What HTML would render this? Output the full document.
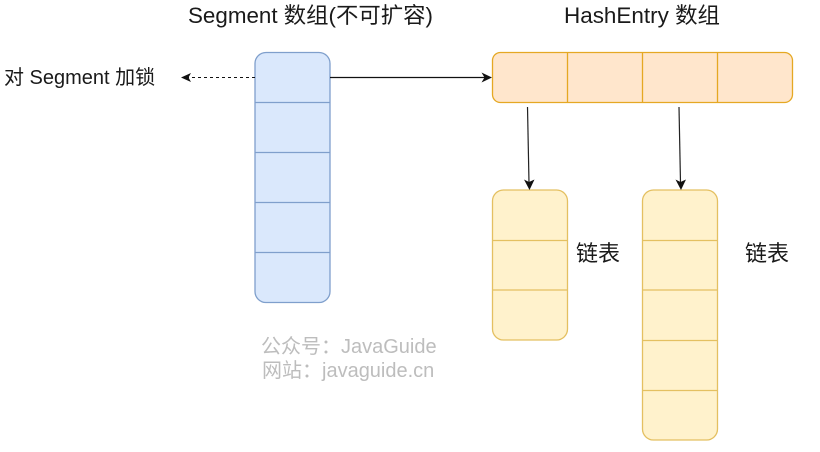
<!DOCTYPE html>
<html><head><meta charset="utf-8">
<style>
html,body{margin:0;padding:0;background:#fff;width:820px;height:452px;overflow:hidden}
svg{display:block;filter:blur(.35px)}
text{font-family:"Liberation Sans","Noto Sans CJK SC",sans-serif;fill:#1a1a1a}
</style></head>
<body>
<svg width="820" height="452" viewBox="0 0 820 452" xmlns="http://www.w3.org/2000/svg">
<!-- Segment array -->
<rect x="255" y="52.500" width="75" height="250" rx="11" fill="#dae8fc" stroke="#7f9fcc" stroke-width="1.300"/>
<g stroke="#7f9fcc" stroke-width="1.300">
<line x1="255" y1="102.500" x2="330" y2="102.500"/>
<line x1="255" y1="152.500" x2="330" y2="152.500"/>
<line x1="255" y1="202.500" x2="330" y2="202.500"/>
<line x1="255" y1="252.500" x2="330" y2="252.500"/>
</g>
<!-- HashEntry array -->
<rect x="492.500" y="52.500" width="300" height="50" rx="8" fill="#ffe6cc" stroke="#e5a823" stroke-width="1.300"/>
<g stroke="#e5a823" stroke-width="1.300">
<line x1="567.500" y1="52.500" x2="567.500" y2="102.500"/>
<line x1="642.500" y1="52.500" x2="642.500" y2="102.500"/>
<line x1="717.500" y1="52.500" x2="717.500" y2="102.500"/>
</g>
<!-- List 1 -->
<rect x="492.500" y="190" width="75" height="150" rx="11" fill="#fff2cc" stroke="#e4c061" stroke-width="1.300"/>
<g stroke="#e4c061" stroke-width="1.300">
<line x1="492.500" y1="240.500" x2="567.500" y2="240.500"/>
<line x1="492.500" y1="290" x2="567.500" y2="290"/>
</g>
<!-- List 2 -->
<rect x="642.500" y="190" width="75" height="250" rx="11" fill="#fff2cc" stroke="#e4c061" stroke-width="1.300"/>
<g stroke="#e4c061" stroke-width="1.300">
<line x1="642.500" y1="240.500" x2="717.500" y2="240.500"/>
<line x1="642.500" y1="290" x2="717.500" y2="290"/>
<line x1="642.500" y1="340.500" x2="717.500" y2="340.500"/>
<line x1="642.500" y1="390.500" x2="717.500" y2="390.500"/>
</g>
<!-- Connectors -->
<line x1="255" y1="77.500" x2="188" y2="77.500" stroke="#111" stroke-width="1" stroke-dasharray="3 3"/>
<path d="M181 77.500 L191 73 L188.500 77.500 L191 82 Z" fill="#111"/>
<line x1="330" y1="77.500" x2="486" y2="77.500" stroke="#111" stroke-width="1.200"/>
<path d="M492 77.500 L481.500 72.500 L484.500 77.500 L481.500 82.500 Z" fill="#111"/>
<line x1="527.500" y1="107" x2="529" y2="183" stroke="#222" stroke-width="1.200"/>
<path d="M529.500 190 L524 179.500 L529 182 L534.500 179.500 Z" fill="#111"/>
<line x1="679" y1="107" x2="680.500" y2="183" stroke="#222" stroke-width="1.200"/>
<path d="M681 190 L675.500 179.500 L680.500 182 L686 179.500 Z" fill="#111"/>
<!-- Labels -->
<text x="188" y="23" font-size="22" textLength="245" lengthAdjust="spacingAndGlyphs">Segment 数组(不可扩容)</text>
<text x="564" y="23" font-size="22" textLength="156" lengthAdjust="spacingAndGlyphs">HashEntry 数组</text>
<text x="4" y="84" font-size="20">对 Segment 加锁</text>
<text x="576" y="261" font-size="22">链表</text>
<text x="745" y="261" font-size="22">链表</text>
<text x="261" y="353" font-size="20" style="fill:#bdbdbd">公众号：JavaGuide</text>
<text x="262" y="377" font-size="20" style="fill:#bdbdbd">网站：javaguide.cn</text>
</svg>
</body></html>
